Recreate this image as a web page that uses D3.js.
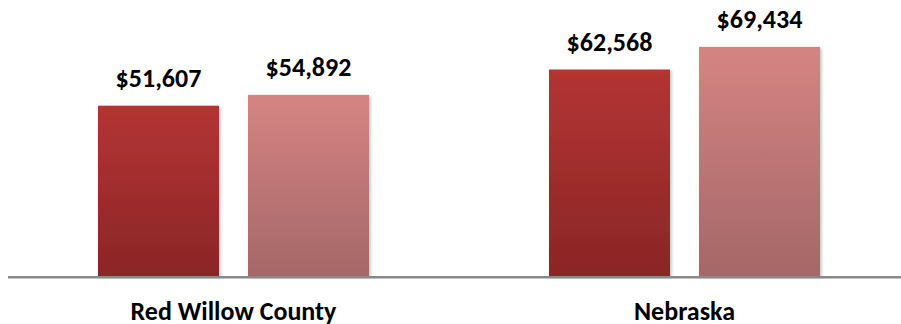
<!DOCTYPE html>
<html>
<head>
<meta charset="utf-8">
<script src="https://cdn.jsdelivr.net/npm/d3@7/dist/d3.min.js"></script>
<style>
  html, body { margin: 0; padding: 0; background: #fff; }
  svg { display: block; }
  text { font-family: Carlito, Calibri, "Open Sans", sans-serif; font-weight: 700; fill: #000; }
</style>
</head>
<body>
<svg id="chart" width="901" height="324"></svg>
<script>
// Median household income, two areas, two periods each
const categories = ["Red Willow County", "Nebraska"];
const seriesNames = ["earlier", "later"];
const earlierValues = [51607, 62568];
const laterValues = [54892, 69434];

const seriesValues = [earlierValues, laterValues];
const gradients = [
  { id: "gradDark", top: "#b43433", bottom: "#8a2626" },
  { id: "gradLight", top: "#d58483", bottom: "#a56767" }
];

const width = 901, height = 324;
const svg = d3.select("#chart");

const x0 = d3.scaleBand().domain(categories).range([8, 910]).paddingInner(0).paddingOuter(0);
const x1 = d3.scaleBand().domain(seriesNames).range([0, x0.bandwidth()])
  .paddingInner(0.1933).paddingOuter(0.6);
const y = d3.scaleLinear().domain([0, 80000]).range([276, 12]);

const defs = svg.append("defs");
gradients.forEach(g => {
  const lg = defs.append("linearGradient").attr("id", g.id)
    .attr("x1", 0).attr("y1", 0).attr("x2", 0).attr("y2", 1);
  lg.append("stop").attr("offset", "0%").attr("stop-color", g.top);
  lg.append("stop").attr("offset", "100%").attr("stop-color", g.bottom);
});
const shadow = defs.append("filter").attr("id", "barShadow")
  .attr("x", "-10%").attr("y", "-10%").attr("width", "130%").attr("height", "130%");
shadow.append("feDropShadow").attr("dx", 1.5).attr("dy", 1.5).attr("stdDeviation", 1.5)
  .attr("flood-color", "#000").attr("flood-opacity", 0.25);

const rows = categories.map((c, i) => ({
  category: c,
  bars: seriesNames.map((s, j) => ({ series: s, idx: j, value: seriesValues[j][i] }))
}));

const groups = svg.append("g").selectAll("g").data(rows).join("g")
  .attr("transform", d => `translate(${x0(d.category)},0)`);

groups.selectAll("rect").data(d => d.bars).join("rect")
  .attr("x", d => x1(d.series))
  .attr("width", x1.bandwidth())
  .attr("y", d => y(d.value))
  .attr("height", d => y(0) - y(d.value))
  .attr("fill", d => `url(#${gradients[d.idx].id})`)
  .attr("filter", "url(#barShadow)");

groups.selectAll("text.value").data(d => d.bars).join("text")
  .attr("class", "value")
  .attr("x", d => x1(d.series) + x1.bandwidth() / 2)
  .attr("y", d => y(d.value) - 19)
  .attr("text-anchor", "middle")
  .style("font-size", "26px")
  .text(d => "$" + d3.format(",")(d.value));

// baseline
svg.append("line")
  .attr("x1", 8).attr("x2", width)
  .attr("y1", 277.3).attr("y2", 277.3)
  .attr("stroke", "#888").attr("stroke-width", 2.5);

// category labels
svg.append("g").selectAll("text").data(categories).join("text")
  .attr("x", d => x0(d) + x0.bandwidth() / 2)
  .attr("y", 320)
  .attr("text-anchor", "middle")
  .style("font-size", "26px")
  .text(d => d);
</script>
</body>
</html>
